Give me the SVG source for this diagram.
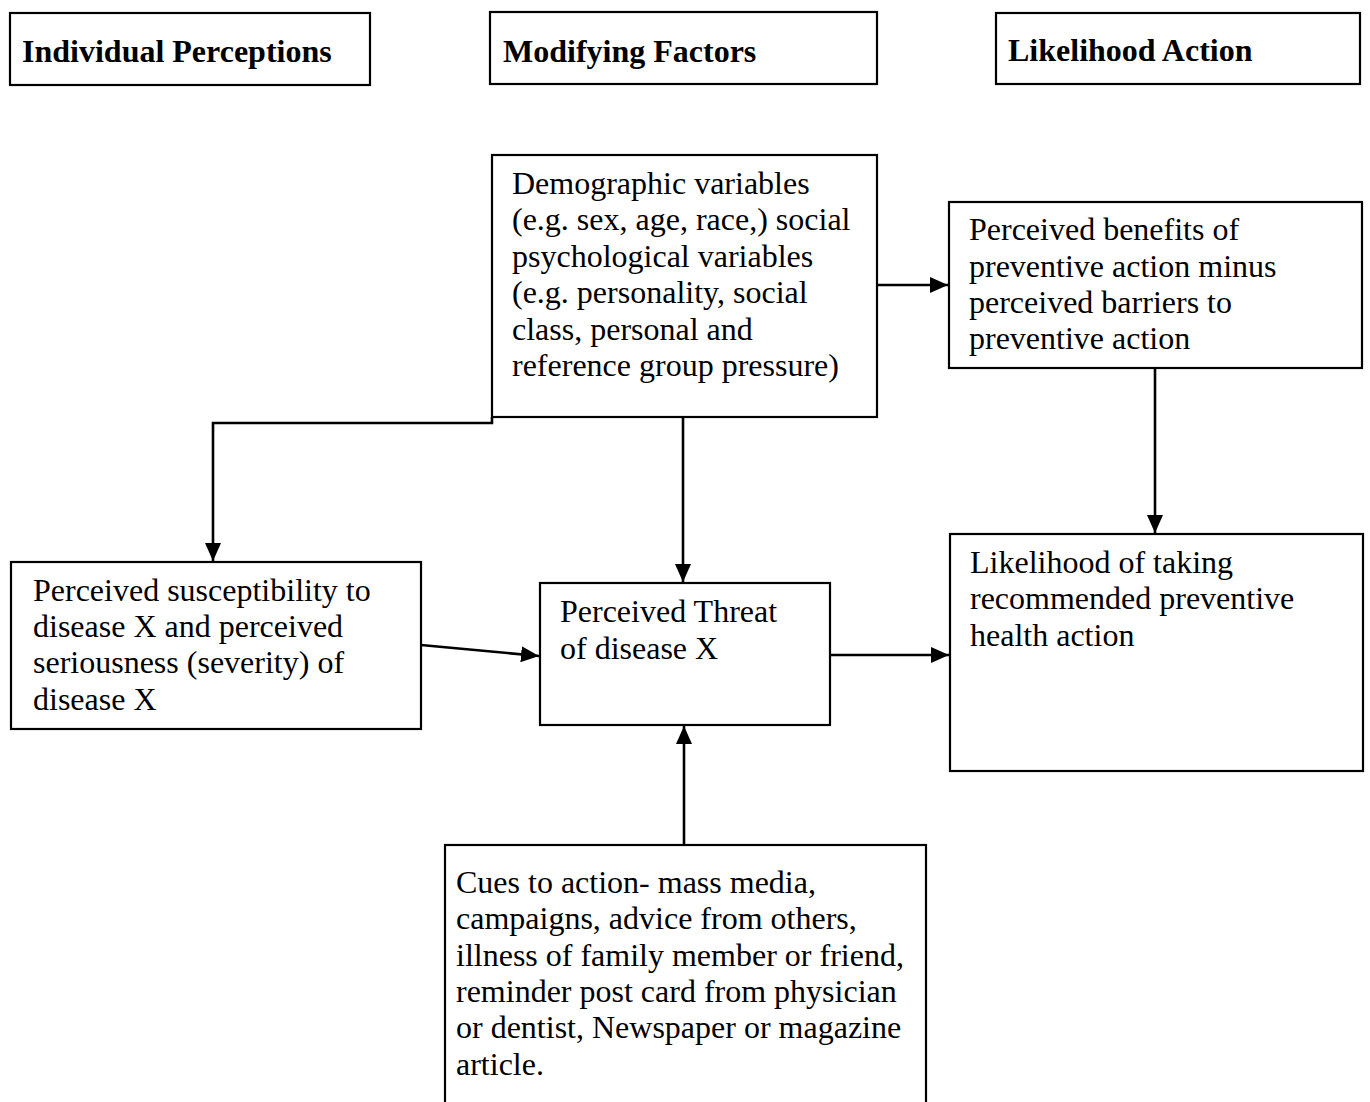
<svg xmlns="http://www.w3.org/2000/svg" width="1370" height="1102" viewBox="0 0 1370 1102">
<style>
.box{fill:#fff;stroke:#000;stroke-width:2.2}
.t{font-family:"Liberation Serif","Times New Roman",serif;font-size:32px;fill:#000}
.h{font-family:"Liberation Serif","Times New Roman",serif;font-size:32px;font-weight:bold;fill:#000}
.c{fill:none;stroke:#000;stroke-width:2.6}
</style>
<defs>
<marker id="ah" viewBox="0 0 18 16" refX="18" refY="8" markerWidth="18" markerHeight="16" markerUnits="userSpaceOnUse" orient="auto">
<path d="M0,0 L18,8 L0,16 Z" fill="#000"/>
</marker>
</defs>
<rect width="1370" height="1102" fill="#fff"/>
<g id="connectors">
<polyline class="c" points="492,417 492,423 213,423 213,561" marker-end="url(#ah)"/>
<line class="c" x1="683" y1="417" x2="683" y2="582" marker-end="url(#ah)"/>
<line class="c" x1="877" y1="285" x2="948" y2="285" marker-end="url(#ah)"/>
<line class="c" x1="1155" y1="368" x2="1155" y2="533" marker-end="url(#ah)"/>
<line class="c" x1="421" y1="645" x2="539" y2="656" marker-end="url(#ah)"/>
<line class="c" x1="830" y1="655" x2="949" y2="655" marker-end="url(#ah)"/>
<line class="c" x1="684" y1="845" x2="684" y2="726" marker-end="url(#ah)"/>
</g>
<g id="hdr-individual">
<rect class="box" x="10" y="13" width="360" height="72"/>
<text class="h" x="22" y="62">Individual Perceptions</text>
</g>
<g id="hdr-modifying">
<rect class="box" x="490" y="12" width="387" height="72"/>
<text class="h" x="503" y="62">Modifying Factors</text>
</g>
<g id="hdr-likelihood">
<rect class="box" x="996" y="13" width="364" height="71"/>
<text class="h" x="1008" y="61">Likelihood Action</text>
</g>
<g id="demographic">
<rect class="box" x="492" y="155" width="385" height="262"/>
<text class="t" x="512" y="194">Demographic variables</text>
<text class="t" x="512" y="230">(e.g. sex, age, race,) social</text>
<text class="t" x="512" y="267">psychological variables</text>
<text class="t" x="512" y="303">(e.g. personality, social</text>
<text class="t" x="512" y="340">class, personal and</text>
<text class="t" x="512" y="376">reference group pressure)</text>
</g>
<g id="benefits">
<rect class="box" x="949" y="202" width="413" height="166"/>
<text class="t" x="969" y="240">Perceived benefits of</text>
<text class="t" x="969" y="277">preventive action minus</text>
<text class="t" x="969" y="313">perceived barriers to</text>
<text class="t" x="969" y="349">preventive action</text>
</g>
<g id="susceptibility">
<rect class="box" x="11" y="562" width="410" height="167"/>
<text class="t" x="33" y="601">Perceived susceptibility to</text>
<text class="t" x="33" y="637">disease X and perceived</text>
<text class="t" x="33" y="673">seriousness (severity) of</text>
<text class="t" x="33" y="710">disease X</text>
</g>
<g id="threat">
<rect class="box" x="540" y="583" width="290" height="142"/>
<text class="t" x="560" y="622">Perceived Threat</text>
<text class="t" x="560" y="659">of disease X</text>
</g>
<g id="likelihood">
<rect class="box" x="950" y="534" width="413" height="237"/>
<text class="t" x="970" y="573">Likelihood of taking</text>
<text class="t" x="970" y="609">recommended preventive</text>
<text class="t" x="970" y="646">health action</text>
</g>
<g id="cues">
<rect class="box" x="445" y="845" width="481" height="270"/>
<text class="t" x="456" y="893">Cues to action- mass media,</text>
<text class="t" x="456" y="929">campaigns, advice from others,</text>
<text class="t" x="456" y="966">illness of family member or friend,</text>
<text class="t" x="456" y="1002">reminder post card from physician</text>
<text class="t" x="456" y="1038">or dentist, Newspaper or magazine</text>
<text class="t" x="456" y="1075">article.</text>
</g>
</svg>
